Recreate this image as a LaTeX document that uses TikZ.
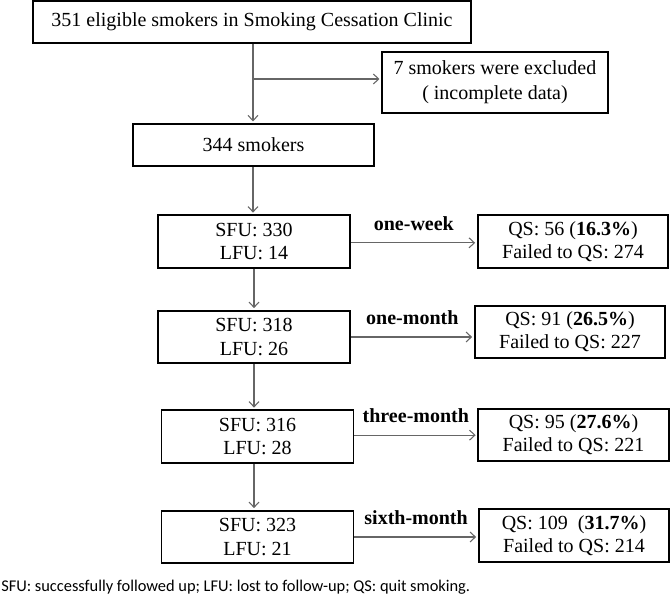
\documentclass[tikz,border=0pt]{standalone}
\usepackage{fontspec}
\setmainfont{Liberation Serif}
\newfontfamily\notefont{Carlito}
\usepackage{tikz}
\usetikzlibrary{arrows.meta}

\begin{document}
\begin{tikzpicture}[x=0.75pt,y=-0.75pt,box/.style={shape=rectangle,draw=black,line width=1.4pt,inner sep=0pt,align=center,font=\fontsize{15}{17.5}\selectfont},stage/.style={box,minimum width=144pt,minimum height=39.5pt},result/.style={box,minimum width=143pt,minimum height=39.5pt},flow/.style={draw=gray!80!black,line width=0.8pt,-{Straight Barb[length=4pt,width=7.5pt]},shorten >=1.2pt},period/.style={above=9pt,inner sep=0pt,font=\fontsize{15}{17.5}\selectfont\bfseries}]
\useasboundingbox (0,0) rectangle (671,595);
\node[box,minimum width=328.5pt,minimum height=31.5pt] (T) at (252,22) {351 eligible smokers in Smoking Cessation Clinic};
\node[box,minimum width=169.5pt,minimum height=45.75pt,font=\fontsize{15}{18.5}\selectfont] (X) at (495,82.5) {7 smokers were excluded\\( incomplete data)};
\node[box,minimum width=180.75pt,minimum height=31.5pt] (N) at (253.5,145) {344 smokers};
\node[stage] (S1) at (254,241.5) {SFU: 330\\LFU: 14};
\node[result] (Q1) at (573,241.5) {QS: 56 (\textbf{16.3\%})\\Failed to QS: 274};
\node[stage] (S2) at (254,337) {SFU: 318\\LFU: 26};
\node[result] (Q2) at (570,332) {QS: 91 (\textbf{26.5\%})\\Failed to QS: 227};
\node[stage] (S3) at (257.5,436.5) {SFU: 316\\LFU: 28};
\node[result] (Q3) at (573.5,435) {QS: 95 (\textbf{27.6\%})\\Failed to QS: 221};
\node[stage] (S4) at (257.5,537) {SFU: 323\\LFU: 21};
\node[result] (Q4) at (574,535.5) {QS: 109\ \ (\textbf{31.7\%})\\Failed to QS: 214};
\node[anchor=base west,inner sep=0pt,font=\notefont\fontsize{12.3}{14}\selectfont] (F) at (1,591) {SFU: successfully followed up; LFU: lost to follow-up; QS: quit smoking.};
\coordinate (B) at (253,79);
\draw[flow] (T.south -| B) -- (N.north -| B);
\draw[flow] (B) -- (B -| X.west);
\draw[flow] (N.south -| B) -- (S1.north -| B);
\draw[flow] (S1) -- (S2);
\draw[flow] (S2.south) -- (S2.south |- S3.north);
\draw[flow] (S3.south -| S2) -- (S4.north -| S2);
\draw[flow] ([yshift=-1pt]S1.east) -- ([yshift=-1pt]S1.east -| Q1.west) node[period,midway] (W1) {one-week};
\draw[flow] (S2.east) -- (S2.east -| Q2.west) node[period,midway] (W2) {one-month};
\draw[flow] ([yshift=1pt]S3.east) -- ([yshift=1pt]S3.east -| Q3.west) node[period,midway] (W3) {three-month};
\draw[flow] (S4.east) -- (S4.east -| Q4.west) node[period,midway] (W4) {sixth-month};
\end{tikzpicture}
\end{document}
